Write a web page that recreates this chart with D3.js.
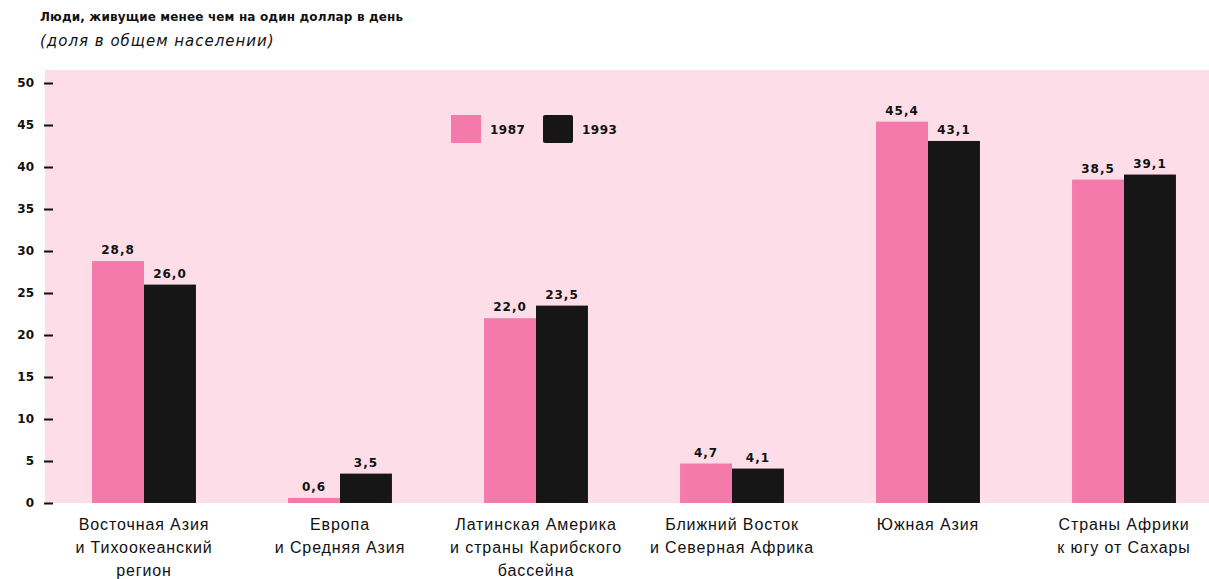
<!DOCTYPE html>
<html>
<head>
<meta charset="utf-8">
<script src="https://cdn.jsdelivr.net/npm/d3@7"></script>
<style>
  html, body { margin: 0; padding: 0; background: #ffffff; }
  svg { display: block; }
  text { font-family: "Liberation Sans", Arial, sans-serif; fill: #111; }
</style>
</head>
<body>
<svg id="chart" width="1209" height="579"></svg>
<script>
const categories = [
  ["Восточная Азия", "и Тихоокеанский", "регион"],
  ["Европа", "и Средняя Азия"],
  ["Латинская Америка", "и страны Карибского", "бассейна"],
  ["Ближний Восток", "и Северная Африка"],
  ["Южная Азия"],
  ["Страны Африки", "к югу от Сахары"]
];
const seriesNames = ["1987", "1993"];
const values1987 = [28.8, 0.6, 22.0, 4.7, 45.4, 38.5];
const values1993 = [26.0, 3.5, 23.5, 4.1, 43.1, 39.1];
const labels1987 = ["28,8", "0,6", "22,0", "4,7", "45,4", "38,5"];
const labels1993 = ["26,0", "3,5", "23,5", "4,1", "43,1", "39,1"];
const yTicks = [0, 5, 10, 15, 20, 25, 30, 35, 40, 45, 50];
const title = "Люди, живущие менее чем на один доллар в день";
const subtitle = "(доля в общем населении)";

const colors = { "1987": "#f47aab", "1993": "#161616" };
const boldFont = "'DejaVu Sans', 'Liberation Sans', Arial, sans-serif";
const svg = d3.select("#chart");

const catIdx = categories.map((c, i) => i);
const x0 = d3.scaleBand().domain(catIdx).range([46, 1222]).padding(0);
const bw = x0.bandwidth();
const x1 = d3.scaleBand().domain(seriesNames).range([bw * 0.235, bw * 0.765]).padding(0);
const y = d3.scaleLinear().domain([0, 50]).range([503, 83]);

// background panel
svg.append("rect").attr("x", 45).attr("y", 70).attr("width", 1209 - 45).attr("height", 503 - 70)
  .attr("fill", "#fddde7");

// title
svg.append("text").attr("x", 40).attr("y", 21).attr("font-size", 12).attr("font-weight", "bold")
  .attr("letter-spacing", 0.15).style("font-family", boldFont).text(title);
svg.append("text").attr("x", 40).attr("y", 46).attr("font-size", 15).attr("font-style", "italic")
  .attr("letter-spacing", 1).style("font-family", boldFont).text(subtitle);

// y axis
const yAxis = d3.axisLeft(y).tickValues(yTicks).tickSize(9).tickPadding(10).tickFormat(d3.format("d"));
const ga = svg.append("g").attr("transform", "translate(53,0)").call(yAxis);
ga.select(".domain").remove();
ga.selectAll(".tick line").attr("stroke", "#111").attr("stroke-width", 2);
ga.selectAll(".tick text").attr("font-size", 12).attr("font-weight", "bold")
  .style("font-family", boldFont).attr("fill", "#111");

// bars
const data = catIdx.map(i => ({
  i,
  vals: [
    { s: "1987", v: values1987[i], l: labels1987[i] },
    { s: "1993", v: values1993[i], l: labels1993[i] }
  ]
}));

const groups = svg.append("g").selectAll("g").data(data).join("g")
  .attr("transform", d => `translate(${x0(d.i)},0)`);

groups.selectAll("rect").data(d => d.vals).join("rect")
  .attr("x", d => x1(d.s))
  .attr("width", x1.bandwidth())
  .attr("y", d => y(d.v))
  .attr("height", d => y(0) - y(d.v))
  .attr("fill", d => colors[d.s]);

groups.selectAll("text.val").data(d => d.vals).join("text")
  .attr("class", "val")
  .attr("x", d => x1(d.s) + x1.bandwidth() / 2)
  .attr("y", d => y(d.v) - 7)
  .attr("text-anchor", "middle")
  .attr("font-size", 12).attr("font-weight", "bold").attr("letter-spacing", 1)
  .style("font-family", boldFont)
  .text(d => d.l);

// category labels
const cat = svg.append("g").selectAll("text").data(data).join("text")
  .attr("x", d => x0(d.i) + bw / 2)
  .attr("y", 530)
  .attr("text-anchor", "middle")
  .attr("font-size", 16).attr("letter-spacing", 0.9);
cat.selectAll("tspan").data(d => categories[d.i]).join("tspan")
  .attr("x", function() { return d3.select(this.parentNode).attr("x"); })
  .attr("dy", (d, k) => k === 0 ? 0 : 23)
  .text(d => d);

// legend
const legend = svg.append("g");
const legItems = [
  { s: "1987", x: 451 },
  { s: "1993", x: 543 }
];
legItems.forEach(it => {
  legend.append("rect").attr("x", it.x).attr("y", 115).attr("width", 30).attr("height", 28)
    .attr("rx", it.s === "1993" ? 2 : 0).attr("fill", colors[it.s]);
  legend.append("text").attr("x", it.x + 39).attr("y", 134).attr("font-size", 12)
    .attr("font-weight", "bold").attr("letter-spacing", 0.5).style("font-family", boldFont).text(it.s);
});
</script>
</body>
</html>
